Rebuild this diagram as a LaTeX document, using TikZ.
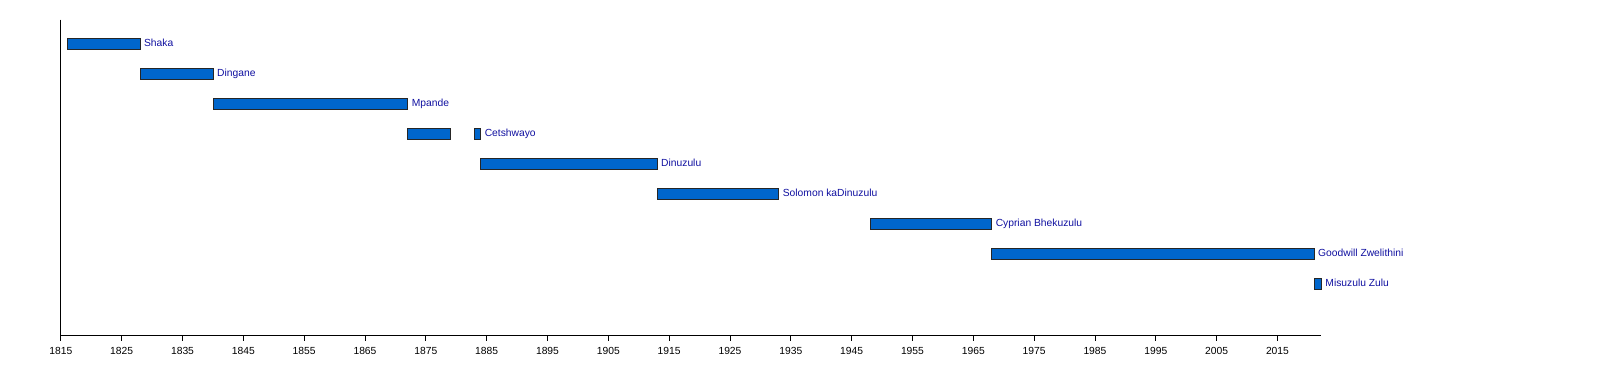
\documentclass[tikz,border=0pt]{standalone}
\usepackage{fontspec}
\setmainfont{Liberation Sans}
\usetikzlibrary{positioning}
\definecolor{BarBlue}{RGB}{0,102,204}
\definecolor{NameBlue}{RGB}{16,16,160}

\begin{document}
\begin{tikzpicture}[x=6.083pt,y=-1pt,
    bar/.style={fill=BarBlue,draw=black!85,line width=0.7pt},
    kingname/.style={anchor=base west,xshift=4pt,inner sep=0pt,text=NameBlue,font=\fontsize{10.3}{12}\selectfont},
    yearlabel/.style={anchor=base,inner sep=0pt,font=\fontsize{10.3}{12}\selectfont}]
        \useasboundingbox (1805.02,0) rectangle (2068.05,365);
        %Trục
        \draw[line width=1pt] (1815,19.5)--(1815,335)--(2022.2,335);
        \foreach \yr in {1815,1825,...,2015}
            \draw[line width=0.8pt] (\yr,335)--(\yr,341) node[yearlabel] at (\yr,354) (y\yr) {\yr};
        %Thanh
        \filldraw[bar] (1816,38.2) rectangle (1828,49.2);
        \filldraw[bar] (1828,68.2) rectangle (1840,79.2);
        \filldraw[bar] (1840,98.2) rectangle (1872,109.2);
        \filldraw[bar] (1872,128.2) rectangle (1879,139.2);
        \filldraw[bar] (1883,128.2) rectangle (1884,139.2);
        \filldraw[bar] (1884,158.2) rectangle (1913,169.2);
        \filldraw[bar] (1913,188.2) rectangle (1933,199.2);
        \filldraw[bar] (1948,218.2) rectangle (1968,229.2);
        \filldraw[bar] (1968,248.2) rectangle (2021,259.2);
        \filldraw[bar] (2021,278.2) rectangle (2022.2,289.2);
        %Tên
        \node[kingname] (shaka) at (1828,46.9) {Shaka};
        \node[kingname] (dingane) at (1840,76.9) {Dingane};
        \node[kingname] (mpande) at (1872,106.9) {Mpande};
        \node[kingname] (cetshwayo) at (1884,136.9) {Cetshwayo};
        \node[kingname] (dinuzulu) at (1913,166.9) {Dinuzulu};
        \node[kingname] (solomon) at (1933,196.9) {Solomon kaDinuzulu};
        \node[kingname] (cyprian) at (1968,226.9) {Cyprian Bhekuzulu};
        \node[kingname] (goodwill) at (2021,256.9) {Goodwill Zwelithini};
        \node[kingname] (misuzulu) at (2022.2,286.9) {Misuzulu Zulu};
    \end{tikzpicture}
\end{document}
